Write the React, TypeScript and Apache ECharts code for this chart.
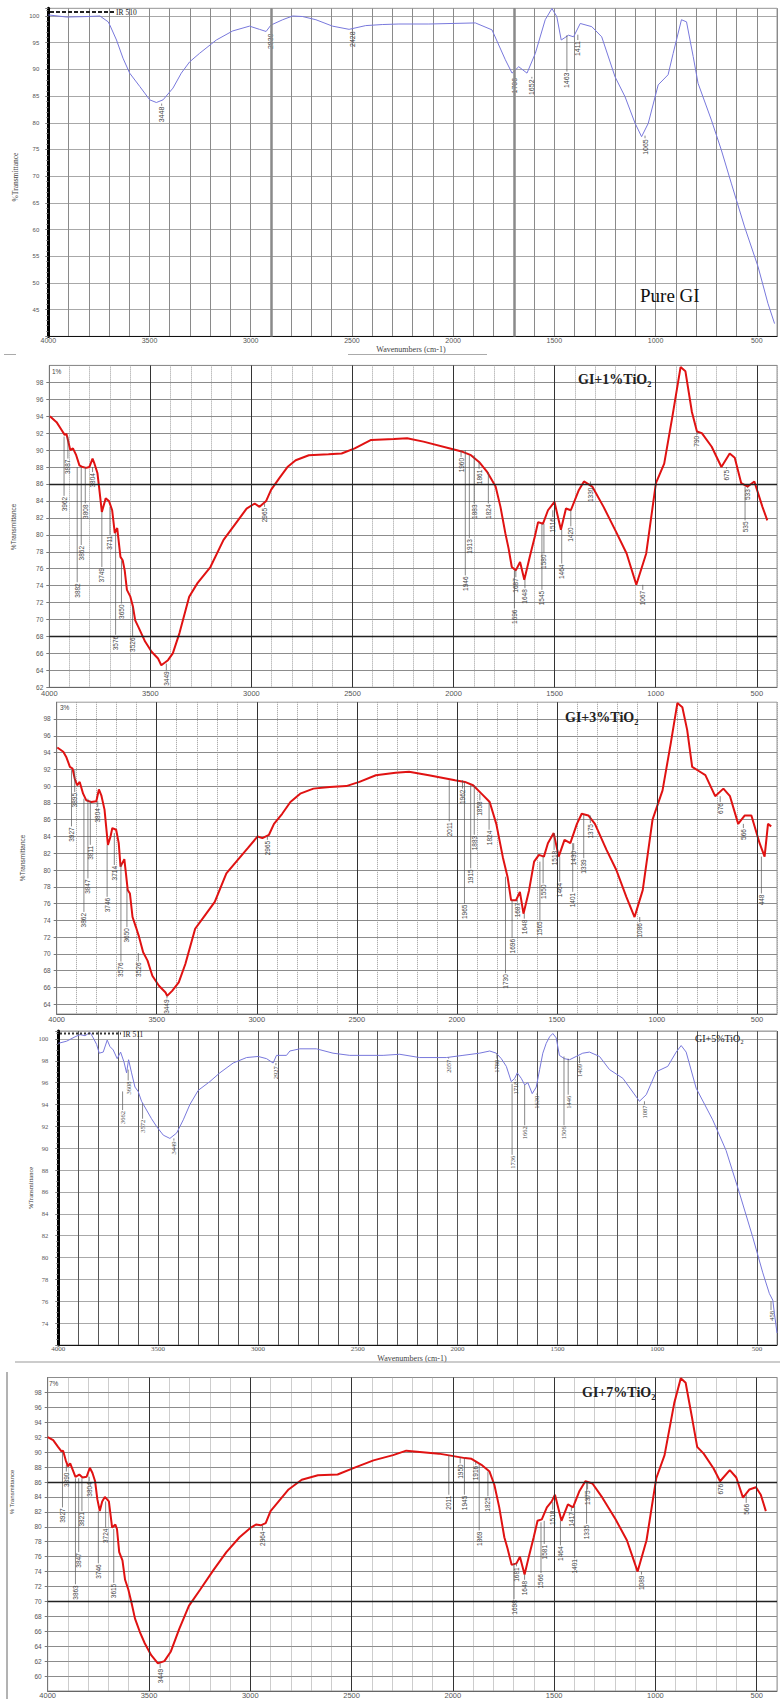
import React, { useEffect, useRef } from 'react';
import * as echarts from 'echarts';

// ---------- DATA ----------
// wavenumber (cm-1), %Transmittance
const pureGI = [
  [4000,100.2],[3909,99.8],[3803,99.9],[3745,100.0],[3704,98.9],[3696,98.3],[3663,95.5],[3631,92.1],[3598,89.3],[3548,86.8],
  [3499,84.3],[3466,83.8],[3433,84.3],[3384,86.5],[3343,89.3],[3302,91.4],[3253,93.0],[3170,95.5],[3089,97.2],[3006,98.1],
  [2957,97.5],[2924,97.1],[2900,98.3],[2842,99.3],[2793,100],[2744,99.9],[2678,99.3],[2596,98.1],[2514,97.5],[2432,98.2],
  [2350,98.4],[2268,98.5],[2120,98.5],[1890,98.7],[1808,97.4],[1742,91.8],[1709,89.3],[1676,90.5],[1635,89.3],[1594,93.0],
  [1545,99.3],[1512,101.4],[1488,99.9],[1466,95.5],[1430,96.4],[1405,96.1],[1372,98.6],[1315,98.0],[1266,96.1],[1200,88.6],
  [1151,84.9],[1101,79.9],[1069,77.4],[1036,79.9],[987,87.1],[938,89.0],[913,93.0],[872,99.3],[847,98.9],[814,92.4],
  [790,87.4],[724,80.5],[675,74.9],[626,68.7],[560,60.5],[494,53.1],[445,46.2],[412,42.4]
];
const gi1 = [
  [3997,94.0],[3964,93.3],[3940,92.4],[3924,91.8],[3915,91.9],[3908,91.2],[3896,90.0],[3883,90.2],[3867,89.4],[3851,88.2],
  [3835,88.0],[3818,87.9],[3802,88.0],[3786,89.0],[3778,88.5],[3762,87.3],[3754,85.7],[3740,82.7],[3721,84.3],[3705,84.0],
  [3689,82.9],[3676,80.2],[3664,80.8],[3648,77.4],[3637,77.0],[3627,75.8],[3616,73.5],[3599,72.7],[3586,71.5],[3575,69.9],
  [3559,69.1],[3526,67.4],[3494,66.2],[3462,65.4],[3446,64.6],[3413,65.2],[3389,66.0],[3356,68.4],[3308,72.7],[3267,74.3],
  [3203,76.2],[3138,79.4],[3073,81.5],[3024,83.1],[2984,83.7],[2960,83.3],[2927,84.0],[2903,85.3],[2862,86.7],[2822,88.0],
  [2781,88.8],[2716,89.4],[2619,89.5],[2554,89.6],[2489,90.2],[2408,91.2],[2295,91.3],[2230,91.4],[2149,91.0],[2003,90.1],
  [1955,89.8],[1914,89.4],[1874,88.6],[1833,87.4],[1792,85.7],[1768,83.3],[1744,80.2],[1728,78.4],[1712,76.2],[1692,75.8],
  [1671,76.8],[1650,74.7],[1623,77.4],[1598,79.8],[1582,81.5],[1558,81.3],[1533,82.9],[1501,83.9],[1469,80.6],[1444,83.1],
  [1420,82.9],[1380,85.3],[1355,86.3],[1314,85.7],[1258,83.3],[1193,80.2],[1144,77.8],[1096,74.1],[1047,77.8],[999,86.1],
  [958,88.4],[918,93.9],[877,99.8],[853,99.3],[821,94.5],[796,92.2],[772,92.0],[723,90.4],[675,88.0],[634,89.6],
  [609,89.1],[577,86.1],[545,85.7],[512,86.3],[472,83.3],[448,81.7]
];
const gi3 = [
  [3997,94.6],[3967,94.1],[3951,93.4],[3934,92.3],[3921,92.1],[3910,90.9],[3898,90.1],[3885,90.5],[3868,89.1],[3852,88.3],
  [3827,88.1],[3802,88.2],[3789,89.6],[3777,88.9],[3761,87.2],[3744,83.0],[3731,84.0],[3722,85.0],[3703,84.8],[3690,83.2],
  [3681,80.4],[3662,81.3],[3654,79.6],[3645,77.6],[3634,77.2],[3621,74.4],[3604,73.2],[3588,72.0],[3568,70.2],[3546,69.2],
  [3522,67.4],[3489,66.2],[3456,65.4],[3448,65.0],[3423,65.6],[3390,66.6],[3357,68.8],[3308,73.0],[3259,74.6],[3210,76.2],
  [3152,79.6],[3095,81.2],[3045,82.6],[2996,84.0],[2972,83.8],[2939,84.2],[2914,85.5],[2873,86.7],[2832,88.1],[2783,89.1],
  [2717,89.7],[2635,89.9],[2553,90.0],[2487,90.5],[2405,91.3],[2306,91.6],[2239,91.7],[2140,91.3],[2009,90.7],[1960,90.5],
  [1919,90.1],[1877,89.1],[1836,88.1],[1803,85.5],[1770,81.5],[1746,79.1],[1729,76.4],[1704,76.4],[1685,77.4],[1667,74.8],
  [1639,77.6],[1614,81.0],[1590,81.8],[1565,81.6],[1545,83.2],[1516,84.4],[1491,81.6],[1462,83.6],[1433,83.2],[1400,85.5],
  [1376,86.7],[1343,86.5],[1310,85.5],[1252,82.4],[1203,80.0],[1153,76.8],[1112,74.4],[1071,77.6],[1022,86.0],[972,89.5],
  [931,95.1],[898,99.9],[873,99.4],[849,96.7],[824,92.3],[791,91.8],[758,91.3],[709,88.8],[668,89.7],[635,88.8],
  [594,85.5],[561,86.5],[528,86.5],[487,83.2],[462,81.6],[445,85.5],[429,85.2]
];
const gi5 = [
  [4000,99.6],[3958,99.8],[3916,100.2],[3891,100.4],[3866,100.3],[3841,100.6],[3825,100.1],[3808,99.5],[3795,98.7],[3775,98.8],
  [3755,99.9],[3741,99.3],[3725,99.0],[3705,98.2],[3688,98.8],[3671,97.9],[3658,96.9],[3648,98.1],[3633,96.9],[3616,95.6],
  [3600,95.2],[3583,94.3],[3558,93.5],[3533,92.7],[3508,92.0],[3474,91.2],[3441,90.9],[3407,91.4],[3374,92.6],[3341,94.0],
  [3299,95.3],[3241,96.1],[3191,96.9],[3124,97.8],[3057,98.3],[2999,98.4],[2957,98.2],[2924,97.8],[2907,98.5],[2857,98.5],
  [2840,98.9],[2790,99.1],[2707,99.1],[2624,98.7],[2540,98.5],[2373,98.5],[2290,98.6],[2190,98.3],[2056,98.3],[1973,98.5],
  [1890,98.7],[1839,98.9],[1806,98.7],[1781,98.2],[1756,97.5],[1731,96.1],[1714,96.4],[1701,96.9],[1681,96.4],[1664,95.8],
  [1648,96.0],[1626,95.0],[1606,95.6],[1589,97.2],[1573,98.7],[1556,99.6],[1539,100.2],[1523,100.5],[1506,100.1],[1490,98.5],
  [1465,98.2],[1439,98.1],[1406,98.4],[1373,98.7],[1339,98.8],[1289,98.4],[1239,97.2],[1172,96.4],[1089,94.3],[1055,94.9],
  [1005,97.0],[947,97.5],[905,98.8],[880,99.4],[855,98.8],[805,95.5],[722,92.6],[655,89.8],[588,85.9],[522,81.9],
  [471,78.6],[438,76.7],[421,76.1],[413,74.9],[400,73.1]
];
const gi7 = [
  [4000,92.0],[3973,91.6],[3949,90.7],[3932,90.1],[3924,90.2],[3911,88.9],[3900,88.1],[3889,88.5],[3876,87.6],[3863,86.7],
  [3844,87.0],[3828,86.6],[3808,86.7],[3792,87.9],[3779,87.2],[3766,86.1],[3755,83.7],[3743,82.1],[3731,83.4],[3718,84.0],
  [3698,83.4],[3682,79.9],[3666,80.3],[3658,79.7],[3647,76.6],[3631,75.5],[3618,72.9],[3602,71.6],[3586,69.8],[3569,67.7],
  [3545,65.9],[3521,64.4],[3489,62.8],[3456,61.7],[3424,62.0],[3392,63.3],[3351,66.3],[3303,69.4],[3247,71.6],[3182,74.2],
  [3118,76.6],[3053,78.6],[2997,79.9],[2972,80.3],[2948,80.2],[2924,80.5],[2900,82.1],[2860,83.4],[2811,85.0],[2746,86.3],
  [2666,86.9],[2569,87.0],[2488,87.9],[2392,88.9],[2295,89.6],[2230,90.2],[2069,89.8],[2004,89.5],[1940,89.2],[1908,89.1],
  [1859,88.3],[1819,87.4],[1795,85.6],[1771,82.6],[1746,78.6],[1730,77.1],[1710,74.9],[1686,75.1],[1669,76.0],[1646,73.6],
  [1625,76.0],[1601,78.6],[1582,80.8],[1561,81.0],[1536,82.6],[1512,83.4],[1496,84.3],[1464,80.8],[1432,83.0],[1407,82.6],
  [1375,84.8],[1346,86.1],[1311,85.8],[1262,83.9],[1197,81.0],[1141,78.2],[1088,74.0],[1044,78.2],[996,86.5],[955,89.6],
  [907,96.6],[875,99.9],[851,99.3],[818,94.4],[794,90.7],[762,89.8],[713,87.8],[681,86.1],[633,87.6],[601,86.6],
  [568,83.9],[536,85.0],[504,85.3],[480,84.3],[455,82.1]
];

// peak annotations: [wavenumber, line start %T, label start %T, label]
const peaksPure = [
  [3440,83.6,83.2,'3448'],[2900,97.1,96.9,'2930'],[2498,97.5,97.3,'2428'],[1696,88.9,88.6,'1706'],
  [1611,88.6,88.3,'1652'],[1438,96.4,89.6,'1463'],[1384,96.5,95.5,'1411'],[1052,77.6,77.1,'1065']
];
const peaks1 = [
  [3908,91.6,89.0,'3887'],[3927,91.6,84.6,'3962'],[3842,88.0,78.8,'3862'],[3862,88.0,74.4,'3882'],
  [3786,88.0,87.4,'3804'],[3822,88.0,83.7,'3808'],[3740,82.7,76.2,'3749'],[3700,83.3,80.0,'3711'],
  [3643,77.0,71.9,'3650'],[3672,80.2,68.2,'3576'],[3588,71.5,68.0,'3526'],[3421,64.8,64.0,'3449'],
  [2935,83.7,83.3,'2965'],[1963,90.0,89.2,'1960'],[1942,90.0,75.2,'1946'],[1922,89.4,79.6,'1913'],
  [1898,89.4,83.7,'1883'],[1874,88.6,87.8,'1861'],[1828,87.4,83.7,'1824'],[1692,75.8,75.0,'1687'],
  [1699,75.8,71.3,'1696'],[1647,74.7,73.7,'1648'],[1553,81.3,77.8,'1580'],[1563,81.3,73.5,'1545'],
  [1509,82.9,82.1,'1516'],[1465,80.6,76.6,'1464'],[1420,82.9,81.0,'1420'],[1323,86.3,85.7,'1330'],
  [1064,74.1,73.5,'1067'],[796,92.2,91.8,'790'],[650,88.0,87.8,'675'],[545,85.7,85.5,'533'],[558,85.7,81.7,'535']
];
const peaks3 = [
  [3910,91.9,89.3,'3895'],[3926,91.9,85.2,'3927'],[3844,88.5,79.0,'3847'],[3864,88.5,75.0,'3862'],
  [3795,88.2,87.5,'3804'],[3832,88.2,83.0,'3811'],[3748,83.0,76.8,'3746'],[3712,84.4,80.6,'3714'],
  [3649,77.8,73.2,'3650'],[3679,80.8,69.1,'3576'],[3592,70.1,69.1,'3526'],[3449,65.0,64.7,'3449'],
  [2947,84.0,83.6,'2965'],[1972,90.7,89.7,'1962'],[2038,90.7,85.8,'2011'],[1962,90.5,76.0,'1965'],
  [1931,90.1,80.2,'1915'],[1913,90.1,84.2,'1883'],[1885,89.1,88.3,'1858'],[1839,88.1,84.8,'1824'],
  [1757,79.2,67.7,'1730'],[1699,76.4,76.2,'1687'],[1724,76.4,71.9,'1696'],[1663,74.8,74.2,'1648'],
  [1585,81.0,74.0,'1565'],[1569,81.6,78.4,'1550'],[1514,84.4,82.4,'1518'],[1486,81.6,78.6,'1464'],
  [1416,83.2,82.4,'1430'],[1421,83.2,77.4,'1401'],[1366,86.6,81.4,'1339'],[1333,86.5,85.6,'1375'],
  [1086,74.4,73.8,'1086'],[684,88.8,88.1,'676'],[568,85.5,85.0,'566'],[478,81.6,77.2,'448']
];
const peaks5 = [
  [3650,97.2,96.2,'3608'],[3678,95.2,93.5,'3662'],[3578,94.1,92.7,'3572'],[3421,90.9,90.7,'3449'],
  [2910,97.8,97.6,'2927'],[2045,98.3,98.2,'2057'],[1803,98.7,98.2,'1780'],[1711,96.3,96.2,'1718'],
  [1664,95.8,92.1,'1662'],[1727,95.9,89.4,'1736'],[1603,95.0,94.9,'1630'],[1467,98.4,92.1,'1506'],
  [1446,98.2,94.9,'1446'],[1389,98.4,97.8,'1409'],[1064,94.3,94.0,'1087'],[430,76.0,75.2,'458']
];
const peaks7 = [
  [3908,88.3,87.4,'3890'],[3927,90.0,82.6,'3927'],[3847,86.5,76.6,'3847'],[3863,86.5,72.3,'3863'],
  [3795,86.7,86.1,'3804'],[3831,86.5,82.1,'3821'],[3750,82.1,75.1,'3746'],[3714,83.4,79.9,'3724'],
  [3674,79.7,72.5,'3615'],[3445,61.7,61.1,'3449'],[2940,80.2,79.5,'2964'],[2020,89.6,84.3,'2011'],
  [1964,89.3,88.5,'1950'],[1943,89.2,84.3,'1945'],[1887,88.7,88.3,'1916'],[1870,88.4,79.5,'1869'],
  [1827,87.4,84.1,'1825'],[1686,75.1,74.7,'1681'],[1698,75.1,70.3,'1698'],[1646,73.6,72.9,'1648'],
  [1565,80.6,73.8,'1566'],[1549,80.8,77.7,'1581'],[1507,83.3,82.3,'1518'],[1469,80.8,77.5,'1464'],
  [1415,82.6,82.1,'1417'],[1399,82.8,75.8,'1401'],[1335,86.0,85.0,'1375'],[1340,86.0,80.4,'1335'],
  [1069,74.0,73.6,'1089'],[678,86.0,85.9,'676'],[552,84.3,83.2,'566']
];

const majorX = [3500, 3000, 2500, 2000, 1500, 1000, 500];
const boldXPure = [2900, 1700];
const thickY1 = [86, 68];
const thickY7 = [86, 70];
const yTicks3 = [64,66,68,70,72,74,76,78,80,82,84,86,88,90,92,94,96,98];

const titles = ['Pure GI', 'GI+1%TiO₂', 'GI+3%TiO₂', 'GI+5%TiO₂', 'GI+7%TiO₂'];

// ---------- LAYOUT ----------
const SERIF = 'Liberation Serif, DejaVu Serif, serif';
const SANS = 'Liberation Sans, DejaVu Sans, sans-serif';
const BLUE = '#7878dc';
const RED = '#e01212';

const panels = [
  { data: pureGI, peaks: peaksPure, boldX: boldXPure, thickY: [], kind: 'blue',
    grid: { left: 48.3, top: 8.3, width: 730.8, height: 328.1 },
    y: { min: 40, max: 101.44, interval: 5, hideMin: true, hideMax: true }, yLabelMargin: 9, yFont: 6, xFont: 7, xMargin: 1, labelFont: SANS, peakFont: SANS },
  { data: gi1, peaks: peaks1, boldX: majorX, thickY: thickY1, kind: 'red',
    grid: { left: 49.3, top: 365.4, width: 740.5, height: 321.9 },
    y: { min: 62, max: 100, interval: 2, hideMin: false, hideMax: true }, yLabelMargin: 6, yFont: 6.5, xFont: 7.5, xMargin: 2, labelFont: SANS, peakFont: SANS },
  { data: gi3, peaks: peaks3, boldX: majorX, thickY: [], kind: 'red',
    grid: { left: 56.7, top: 702.2, width: 729, height: 311.8 },
    y: { min: 62.84, max: 100, custom: yTicks3, hideMin: false, hideMax: false }, yLabelMargin: 6, yFont: 6.5, xFont: 7.5, xMargin: 1, labelFont: SANS, peakFont: SANS },
  { data: gi5, peaks: peaks5, boldX: [], thickY: [], kind: 'blue',
    grid: { left: 58.3, top: 1031, width: 719.3, height: 314 },
    y: { min: 72, max: 100.73, interval: 2, hideMin: true, hideMax: true }, yLabelMargin: 10, yFont: 6.5, xFont: 7, xMargin: 0, labelFont: SERIF, peakFont: SERIF },
  { data: gi7, peaks: peaks7, boldX: majorX, thickY: thickY7, kind: 'red',
    grid: { left: 47.7, top: 1377.5, width: 743.8, height: 319.2 },
    y: { min: 58, max: 100, interval: 2, hideMin: true, hideMax: true }, yLabelMargin: 6, yFont: 6.5, xFont: 7.5, xMargin: 0, labelFont: SANS, peakFont: SANS },
];

function buildOption() {
  const grid: any[] = [];
  const xAxis: any[] = [];
  const yAxis: any[] = [];
  const series: any[] = [];

  panels.forEach((p, i) => {
    const red = p.kind === 'red';
    grid.push({ ...p.grid, show: true, borderColor: '#999', borderWidth: 1, backgroundColor: 'transparent', containLabel: false });
    xAxis.push({
      gridIndex: i, type: 'value', min: 400, max: 4000, interval: 100, inverse: true,
      axisLine: { show: true, lineStyle: { color: red ? '#666' : '#111', width: 1 } },
      axisTick: { show: false },
      axisLabel: {
        fontSize: p.xFont, color: '#555', margin: p.xMargin, fontFamily: p.labelFont,
        formatter: (v: number) => (v % 500 === 0 ? String(v) : ''),
      },
      splitLine: {
        show: true,
        lineStyle: red ? { color: '#9a9a9a', type: 'dotted', width: 1 } : { color: i === 3 ? '#555' : '#8a8a8a', width: 1 },
      },
    });
    const ya: any = {
      gridIndex: i, type: 'value', min: p.y.min, max: p.y.max,
      axisLine: { show: true, onZero: false, lineStyle: { color: red ? '#777' : '#000', width: red ? 1 : 3 } },
      axisTick: { show: true, length: 3, lineStyle: { color: '#777' } },
      axisLabel: { fontSize: p.yFont, color: '#555', margin: p.yLabelMargin, fontFamily: p.labelFont,
        showMinLabel: !p.y.hideMin, showMaxLabel: !p.y.hideMax },
      splitLine: { show: true, lineStyle: { color: red ? '#8c8c8c' : '#a8a8a8', width: 1 } },
    };
    if (p.y.custom) {
      ya.axisTick.customValues = p.y.custom;
      ya.axisLabel.customValues = p.y.custom;
    } else {
      ya.interval = p.y.interval;
    }
    if (!red) ya.minorTick = { show: true, splitNumber: i === 0 ? 5 : 4, length: 2, lineStyle: { color: '#777' } };
    yAxis.push(ya);

    const markData: any[] = [
      ...p.boldX.map((v) => ({ xAxis: v, lineStyle: { color: red ? '#333' : '#8a8a8a', width: red ? 1 : 2.5, type: 'solid' } })),
      ...p.thickY.map((v) => ({ yAxis: v, lineStyle: { color: '#222', width: 1.4, type: 'solid' } })),
    ];

    series.push({
      type: 'line', xAxisIndex: i, yAxisIndex: i, data: p.data, symbol: 'none', showSymbol: false, silent: true, z: 3,
      lineStyle: { color: red ? RED : BLUE, width: red ? 2 : 1 },
      markLine: markData.length ? { silent: true, symbol: ['none', 'none'], label: { show: false }, animation: false, data: markData } : undefined,
    });

    const pk = p.peaks;
    series.push({
      type: 'custom', xAxisIndex: i, yAxisIndex: i, silent: true, z: 4,
      data: pk.map((d) => [d[0], d[1], d[2]]),
      encode: { x: 0, y: [1, 2] },
      renderItem: (params: any, api: any) => {
        const d = pk[params.dataIndex];
        const a = api.coord([d[0], d[1]]);
        const b = api.coord([d[0], d[2]]);
        return {
          type: 'group',
          children: [
            { type: 'line', shape: { x1: a[0], y1: a[1], x2: b[0], y2: b[1] }, style: { stroke: '#555', lineWidth: 0.7 } },
            {
              type: 'text', x: b[0], y: b[1] + 1, rotation: Math.PI / 2,
              style: { text: String(d[3]), fontSize: i === 0 ? 7 : 6.5, fontFamily: p.peakFont, fill: '#444', align: 'right', verticalAlign: 'middle' },
            },
          ],
        };
      },
    });
  });

  const t = (x: number, y: number, text: string, fontSize: number, fontFamily: string, extra: any = {}, rot = 0) => ({
    type: 'text', x, y, rotation: rot, silent: true, z: 10,
    style: { text, fontSize, fontFamily, fill: '#222', align: 'left', verticalAlign: 'middle', ...extra },
  });
  const ln = (x1: number, y1: number, x2: number, y2: number, style: any) => ({
    type: 'line', silent: true, z: 10, shape: { x1, y1, x2, y2 }, style,
  });

  const graphic = [
    ln(50, 12, 114, 12, { stroke: '#222', lineWidth: 2, lineDash: [4, 2] }),
    t(116, 12, 'IR 510', 7.5, SERIF),
    t(15, 177, '%Transmittance', 7.5, SERIF, { align: 'center', fill: '#444' }, Math.PI / 2),
    t(411, 349, 'Wavenumbers (cm-1)', 8, SERIF, { align: 'center', fill: '#444' }),
    ln(348, 354.5, 487, 354.5, { stroke: '#aaa', lineWidth: 1 }),
    ln(4, 354.5, 16, 354.5, { stroke: '#aaa', lineWidth: 1 }),
    t(640, 295, titles[0], 19, SERIF, { fill: '#111' }),

    t(52, 371, '1%', 6.5, SANS, { fill: '#444' }),
    t(13, 527, '%Transmittance', 6.5, SANS, { align: 'center', fill: '#444' }, Math.PI / 2),
    t(578, 379, titles[1], 14, SERIF, { fontWeight: 'bold', fill: '#222' }),

    t(60, 707, '3%', 6.5, SANS, { fill: '#444' }),
    t(22, 858, '%Transmittance', 6.5, SANS, { align: 'center', fill: '#444' }, Math.PI / 2),
    t(565, 717, titles[2], 14, SERIF, { fontWeight: 'bold', fill: '#222' }),

    ln(60, 1033.5, 121, 1033.5, { stroke: '#333', lineWidth: 2, lineDash: [2, 2] }),
    t(123, 1034, 'IR 511', 7.5, SERIF),
    t(30, 1188, '%Transmittance', 6.5, SERIF, { align: 'center', fill: '#333' }, Math.PI / 2),
    t(695, 1038, titles[3], 10, SERIF, { fill: '#222' }),
    t(412, 1358, 'Wavenumbers (cm-1)', 8, SERIF, { align: 'center', fill: '#444' }),
    ln(15, 1362, 780, 1362, { stroke: '#999', lineWidth: 1 }),

    t(49, 1383, '7%', 6.5, SANS, { fill: '#444' }),
    t(12, 1492, '% Transmittance', 6, SANS, { align: 'center', fill: '#444' }, Math.PI / 2),
    t(582, 1392, titles[4], 14, SERIF, { fontWeight: 'bold', fill: '#222' }),
    ln(7, 1372, 7, 1699, { stroke: '#666', lineWidth: 1 }),
  ];

  return { animation: false, backgroundColor: '#fff', grid, xAxis, yAxis, series, graphic };
}

export default function App() {
  const ref = useRef<HTMLDivElement>(null);
  useEffect(() => {
    const chart = echarts.init(ref.current as HTMLDivElement, null, { renderer: 'svg' });
    chart.setOption(buildOption() as any);
    return () => chart.dispose();
  }, []);
  return <div ref={ref} style={{ position: 'absolute', left: 0, top: 0, width: 780, height: 1699, background: '#fff' }} />;
}
